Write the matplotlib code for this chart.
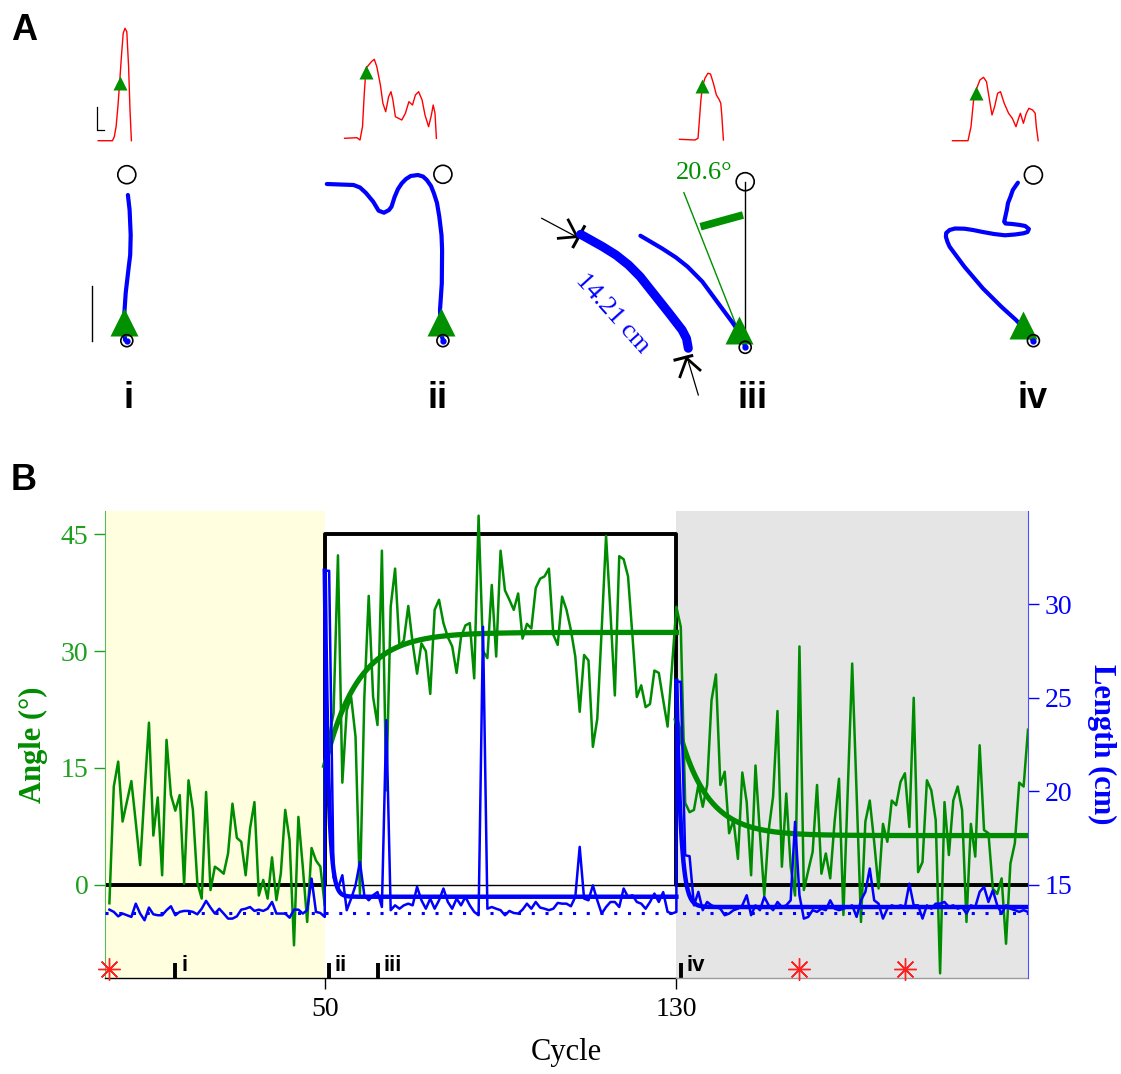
import numpy as np
import matplotlib
matplotlib.use("Agg")
import matplotlib.pyplot as plt
from matplotlib.patches import Circle

plt.rcParams["font.family"] = ["Liberation Serif", "DejaVu Serif"]
SANS = ["Liberation Sans", "DejaVu Sans"]

GREEN = "#008c00"
GREEN_TICK = "#1f9f1f"
BLUE = "#0000ff"
RED = "#ff0000"

# ---------------- panel B data ----------------
# angle (deg) per cycle: baseline 1-50, perturbation 50-130, washout 131-210
base_angle = [-2.4, 12.6, 15.8, 8.1, 10.7, 13.3, 8.0, 2.5, 12.0, 20.8,
              6.3, 11.2, 1.2, 18.6, 11.5, 9.5, 11.5, 0.1, 13.4, 9.6,
              0.3, -1.8, 11.9, -0.7, 2.3, 1.9, 1.4, 4.0, 10.4, 6.0,
              5.5, 1.2, 7.2, 10.6, -1.4, 0.6, -1.8, 3.5, -2.0, 1.4,
              9.6, 5.7, -7.8, 8.7, 2.3, -4.8, 4.7, 3.1, 2.3, -2.7]
pert_angle = [15.8, 19.0, 22.0, 42.3, 13.1, 22.4, 24.1, 19.0, -1.2, 24.0,
              37.1, 24.1, 20.5, 42.9, 12.1, 35.7, 40.6, 30.6, 31.4, 35.8,
              31.0, 27.1, 31.0, 30.0, 24.5, 35.3, 36.6, 33.6, 31.8, 30.6,
              27.2, 31.8, 33.3, 33.6, 26.5, 47.4, 30.0, 29.1, 38.5, 29.3,
              42.9, 37.8, 36.6, 35.3, 37.4, 31.6, 33.5, 32.9, 38.1, 39.3,
              39.6, 40.6, 32.1, 30.8, 37.0, 35.3, 32.7, 29.3, 22.2, 29.5,
              28.8, 17.7, 21.3, 32.7, 44.8, 35.0, 24.3, 42.2, 41.8, 39.6,
              32.0, 24.1, 25.6, 22.8, 23.2, 27.5, 27.2, 23.7, 20.3, 28.0,
              35.7]
wash_angle = [33.1, 10.5, 9.3, 9.6, 12.8, 10.0, 12.8, 23.7, 27.0, 12.8,
              14.5, 6.6, 8.3, 3.3, 14.4, 10.6, 1.2, 15.3, 6.6, -1.4,
              7.0, 11.3, 22.3, 2.3, 11.7, 2.3, -1.4, 30.6, -0.7, 1.8,
              4.2, 12.8, 1.4, 4.0, 0.8, 8.1, 13.6, -3.9, 12.1, 28.4,
              12.0, -4.8, 8.1, 10.8, 5.5, -0.5, 7.8, 5.5, 10.8, 10.2,
              13.2, 14.3, 7.4, 24.0, 1.6, 2.9, 13.4, 12.1, 8.3, -11.4,
              10.6, 3.8, 10.8, 12.6, 9.6, -4.8, 7.8, 3.6, 17.9, 7.0,
              6.6, -0.5, -1.2, 0.8, -7.6, 2.7, 5.3, 13.1, 12.6, 19.9]

# length (cm) per cycle: baseline 1-50, perturbation 50-130, washout 130-210
base_len = [13.66, 13.54, 13.30, 13.45, 13.36, 13.27, 13.98, 13.45, 13.09, 13.77,
            13.41, 13.36, 13.36, 13.63, 13.84, 13.36, 13.54, 13.59, 13.59, 13.54,
            13.41, 13.71, 14.13, 13.77, 13.45, 13.71, 13.45, 13.18, 13.18, 13.30,
            13.66, 13.71, 13.80, 13.59, 13.66, 13.59, 13.71, 14.07, 13.45, 13.45,
            13.45, 13.23, 13.66, 13.66, 13.45, 13.63, 15.32, 13.54, 13.48, 13.27]
pert_len = [31.8, 31.8, 15.4, 14.79, 15.5, 13.63, 14.25, 14.96, 16.21, 14.43,
            14.16, 14.43, 14.6, 13.8, 23.8, 13.63, 13.89, 13.71, 13.89, 13.98,
            13.89, 14.88, 14.16, 13.71, 14.25, 13.71, 14.16, 14.79, 14.07, 13.71,
            14.25, 13.89, 14.34, 13.89, 13.54, 13.36, 28.8, 13.71, 13.8, 13.71,
            13.63, 13.36, 13.59, 13.48, 13.45, 13.66, 13.98, 13.71, 14.07, 13.77,
            13.71, 13.63, 13.71, 14.02, 13.98, 13.98, 13.84, 14.34, 17.02, 14.25,
            14.16, 14.96, 14.16, 13.45, 13.8, 14.07, 14.07, 13.8, 14.79, 14.34,
            14.43, 14.07, 13.98, 13.71, 14.07, 14.52, 14.07, 14.6, 13.54, 13.45,
            13.54]
wash_len = [25.86, 25.86, 16.57, 16.52, 13.89, 14.61, 13.63, 14.07, 13.89, 13.8,
            13.71, 13.36, 13.45, 13.63, 13.71, 13.89, 14.43, 13.36, 13.89, 13.63,
            14.34, 13.89, 13.63, 14.07, 13.8, 13.89, 14.16, 18.36, 14.43, 13.18,
            13.27, 13.63, 13.54, 13.71, 13.63, 14.16, 13.71, 13.63, 13.71, 13.8,
            13.89, 13.27, 14.16, 14.61, 15.86, 14.16, 13.98, 13.18, 13.71, 13.89,
            13.8, 13.89, 13.8, 15.05, 13.89, 13.89, 13.18, 13.89, 13.71, 13.98,
            13.98, 14.07, 13.8, 13.89, 13.71, 13.8, 13.45, 13.89, 13.8, 14.61,
            14.88, 14.07, 14.70, 13.89, 13.45, 13.89, 13.71, 13.63, 13.54, 13.63,
            13.54]

base_x = np.arange(1, 51)
pert_x = np.arange(50, 131)
wash_angle_x = np.arange(131, 211)
wash_len_x = np.arange(130, 211)

# exponential fits: (start value, plateau, time constant in cycles)
angle_fit_pert = (15.3, 32.4, 7.5)
angle_fit_wash = (21.1, 6.3, 6.5)
len_fit_pert = (31.8, 14.35, 0.8)
len_fit_wash = (25.9, 13.8, 1.0)
len_baseline = 13.5

target_x = [0, 50, 50, 130, 130, 210]
target_y = [0, 0, 45, 45, 0, 0]

snapshot_names = ["i", "ii", "iii", "iv"]
snapshot_cycles = [16, 51, 62, 131]
star_cycles = [1, 158, 182]

# ---------------- panel A drawing (pixel coordinates) ----------------
red_i_x = [98.2, 112.5, 114.3, 116.1, 117.9, 119.6, 121.4, 123.2, 125, 126.8, 128.6, 130, 131.4]
red_i_y = [140.7, 140.7, 136.7, 126.7, 106.7, 83.3, 56.7, 33.3, 28.3, 31.7, 66.7, 110, 140.7]
red_ii_x = [344.6, 357, 360, 362.5, 364.3, 366, 371.4, 374.3, 376.8, 380.4, 382.9, 385.7,
            388.6, 391, 392.9, 395.4, 401.8, 405.4, 408.9, 412.5, 415.4, 418.6, 422.1,
            425, 428.6, 431.4, 433.2, 435, 436.4]
red_ii_y = [138.3, 137.7, 140, 126.7, 93.3, 68.3, 61.7, 59.3, 66.7, 85, 103.3, 111.7,
            96.7, 91.7, 100, 116.7, 120, 113.3, 101.7, 105, 95, 91.7, 100,
            115, 126.7, 115, 105, 113.3, 138.3]
red_iii_x = [679.5, 695, 698, 699.4, 700.9, 702.4, 704.9, 707.9, 710.5, 713.4, 716.4,
             719, 720.8, 721.9, 723.4]
red_iii_y = [139.3, 140, 138.3, 120, 100, 86.7, 78.3, 73.3, 74, 83.3, 95,
             99.3, 103.3, 116.7, 140]
red_iv_x = [952.5, 968, 971, 973.6, 976.1, 979.9, 983.5, 986.5, 989.5, 992, 994.6, 997.6,
            1000.5, 1004.2, 1008.6, 1012.3, 1016, 1018.6, 1020.4, 1023.4, 1026.3, 1028.9,
            1032.6, 1035.2, 1036.3, 1038.2]
red_iv_y = [140.7, 140.7, 126.7, 100, 90, 80, 77.3, 81.7, 100, 115, 106.7, 93.3,
            91.7, 103.3, 113.3, 118.3, 126.7, 118.3, 113.3, 123.3, 113.3, 108.3,
            110, 113.3, 126.7, 140.7]

blue_i_x = [127.9, 129.6, 130.7, 130.2, 128.6, 125.7, 123.9, 125]
blue_i_y = [195, 210, 235, 255, 268, 293, 320, 340]
blue_ii_x = [326.8, 353.6, 360, 366, 373.2, 378.6, 384, 389, 391.5, 394.6, 398, 401.8, 406,
             410.7, 417.9, 423, 426.8, 431, 433.9, 437, 439.3, 441.5, 442.1, 441.8, 440, 441, 442.9]
blue_ii_y = [184, 185, 187.5, 193, 201.7, 210.7, 212.7, 210, 206.7, 197, 189, 183.3, 179,
             176, 175, 176.5, 180, 186, 193.3, 203, 216.7, 235, 250, 283.3, 310, 333.3, 340]
blue_iii_thin_x = [640.4, 661.8, 676, 687.6, 702.4, 717.1, 731.9, 741.1, 745.2]
blue_iii_thin_y = [235.7, 248.3, 257.5, 266.7, 281.7, 301.7, 321.7, 335, 346.7]
blue_iii_thick_x = [580.6, 602.7, 616, 628.6, 640, 650.7, 669.2, 682.1, 686.5, 688.3]
blue_iii_thick_y = [234.3, 246.7, 255, 265, 276.5, 290, 313.3, 330, 338.5, 348.3]
blue_iv_x = [1017.9, 1012.8, 1010.5, 1008, 1006.8, 1004.2, 1005.5, 1012.3, 1020, 1025.2, 1028.9,
             1027.5, 1023.4, 1015, 1005, 994, 982.8, 973, 964.4, 955, 949.6, 946.2, 945.9,
             947.5, 949.6, 964.4, 982.8, 1001.3, 1016, 1027.1, 1033.7]
blue_iv_y = [182.7, 190, 196.7, 203, 210, 221.7, 223.5, 224, 225, 226, 229,
             232, 233.3, 234.5, 235.3, 234, 232, 230, 228.7, 228.5, 230, 233, 236.7,
             242, 246.7, 266.7, 288.3, 306.7, 320, 331.7, 341.7]

top_circles = [(126.8, 174.7), (442.9, 174.3), (745.2, 181.7), (1033.4, 175.0)]
base_circles = [(126.8, 340.7), (442.9, 340.7), (745.2, 347.3), (1033.4, 340.7)]
big_triangles = [(123.9, 321.7), (441.0, 321.7), (739.3, 330.0), (1023.4, 325.0)]
small_triangles = [(119.6, 83.3), (366.0, 71.7), (702.4, 86.0), (976.0, 93.3)]
label_pos = [(128, 398), (437, 398), (752, 398), (1033, 398)]

# ---------------- figure ----------------
fig = plt.figure(figsize=(11.21, 10.74), dpi=100)

# panel A on a pixel-space overlay
pa = fig.add_axes([0, 0, 1, 1])
pa.set_xlim(0, 1121)
pa.set_ylim(1074, 0)
pa.axis("off")

for rx, ry in [(red_i_x, red_i_y), (red_ii_x, red_ii_y), (red_iii_x, red_iii_y), (red_iv_x, red_iv_y)]:
    pa.plot(rx, ry, color=RED, lw=1.0, solid_joinstyle="round")
for (tx, ty) in small_triangles:
    pa.plot(tx, ty, marker="^", ms=10, color="#009000", mec="none", zorder=4)

# scale bars
pa.plot([97.1, 97.1, 104.3], [107.3, 130, 130], color="k", lw=0.9)
pa.plot([92.1, 92.1], [286, 340.7], color="k", lw=1.0)

for bx, by in [(blue_i_x, blue_i_y), (blue_ii_x, blue_ii_y), (blue_iii_thin_x, blue_iii_thin_y),
               (blue_iv_x, blue_iv_y)]:
    pa.plot(bx, by, color=BLUE, lw=3.0, solid_capstyle="round", solid_joinstyle="round", zorder=3)
pa.plot(blue_iii_thick_x, blue_iii_thick_y, color=BLUE, lw=6.5, solid_capstyle="round",
        solid_joinstyle="round", zorder=3)

# angle construction in iii
pa.plot([745.2, 745.2], [181.7, 333], color="k", lw=1.0, zorder=2)
pa.plot([683.9, 737.4], [192.7, 328.3], color="#009000", lw=1.0, zorder=2)
pa.plot([700.5, 743], [226.7, 215], color="#009000", lw=5.5, solid_capstyle="butt", zorder=2)
pa.text(704, 173, "20.6°", color="#009000", fontsize=19, ha="center", va="center")
pa.text(612, 314, "14.21 cm", color=BLUE, fontsize=19, ha="center", va="center", rotation=-48)

# dimension markers at the ends of the measured curve
pa.plot([541.7, 574], [218.3, 235.5], color="k", lw=0.9)
pa.plot([558.3, 577, 568.3], [238.3, 236.7, 220], color="k", lw=2.0)
pa.plot([573.3, 584.3], [246.7, 226.7], color="k", lw=2.2)
pa.plot([698.3, 688.5], [395, 362], color="k", lw=0.9)
pa.plot([680, 686.7, 700], [376.7, 358.3, 370], color="k", lw=2.0)
pa.plot([675, 691.7], [360, 355.7], color="k", lw=2.2)

for (cx, cy) in top_circles:
    pa.add_patch(Circle((cx, cy), 9, fill=False, ec="k", lw=1.2, zorder=5))
for (cx, cy) in base_circles:
    pa.add_patch(Circle((cx, cy), 6, fill=False, ec="k", lw=1.2, zorder=5))
    pa.plot(cx, cy, marker="o", ms=3.5, color=BLUE, zorder=6)
for (tx, ty) in big_triangles:
    pa.plot(tx, ty, marker="^", ms=20, color="#009000", mec="none", zorder=4)

for name, (lx, ly) in zip(snapshot_names, label_pos):
    pa.text(lx, ly, name, fontsize=26, fontweight="bold", family=SANS, ha="center", va="center")
pa.text(24, 30, "A", fontsize=26, fontweight="bold", family=SANS, ha="center", va="center")
pa.text(24, 481, "B", fontsize=26, fontweight="bold", family=SANS, ha="center", va="center")

# panel B
ax = fig.add_axes([105 / 1121, 1 - 978 / 1074, 923 / 1121, 467 / 1074])
ax.set_xlim(0, 210)
ax.set_ylim(-12, 48)
ax.axvspan(0, 50, color="#ffffe0", lw=0, zorder=0)
ax.axvspan(130, 210, color="#e5e5e5", lw=0, zorder=0)

ax.plot(target_x, target_y, color="k", lw=2.8, zorder=2)
ax.axhline(0, color="k", lw=1.0, zorder=2)

angle_x = np.concatenate([base_x, pert_x, wash_angle_x])
angle_y = np.concatenate([base_angle, pert_angle, wash_angle])
ax.plot(angle_x, angle_y, color=GREEN, lw=1.8, zorder=3)

for (x0, x1), (start, plateau, tau) in [((50, 130), angle_fit_pert), ((130, 210), angle_fit_wash)]:
    xs = np.linspace(x0, x1, 300)
    ax.plot(xs, plateau + (start - plateau) * np.exp(-(xs - x0) / tau), color=GREEN, lw=3.8, zorder=4)

# snapshot markers and stars along the bottom
for name, cx in zip(snapshot_names, snapshot_cycles):
    ax.plot([cx, cx], [-12, -10.1], color="k", lw=2.8, solid_capstyle="butt", clip_on=False, zorder=5)
    ax.text(cx + 1.3, -11.8, name, fontsize=16, fontweight="bold", family=SANS,
            ha="left", va="bottom", zorder=5)
ax.plot(star_cycles, [-10.9] * len(star_cycles), ls="none", marker=(8, 2, 0), ms=16,
        mew=1.0, color="#ff2020", clip_on=False, zorder=6)

ax.spines["top"].set_visible(False)
ax.spines["right"].set_visible(False)
ax.spines["bottom"].set_visible(False)
ax.spines["left"].set_color("#5cb85c")
ax.plot([0, 130], [-12, -12], color="k", lw=1.0, clip_on=False, zorder=5)
ax.plot([130, 210], [-12, -12], color="#9a9a9a", lw=1.0, clip_on=False, zorder=5)

ax.set_xticks([50, 130])
ax.set_yticks([0, 15, 30, 45])
ax.tick_params(axis="x", direction="out", length=8, width=1, labelsize=20, pad=6)
ax.tick_params(axis="y", direction="out", length=8, width=1, labelsize=20, colors=GREEN_TICK, pad=4)
ax.set_xlabel("Cycle", fontsize=22)
ax.xaxis.set_label_coords(0.5, -0.128)
ax.set_ylabel("Angle (°)", fontsize=22, fontweight="bold", color=GREEN)
ax.yaxis.set_label_coords(-0.062, 0.5)

ax2 = ax.twinx()
ax2.set_ylim(10, 35)
ax2.axhline(len_baseline, color=BLUE, lw=2.2, ls=(0, (1, 3.5)), zorder=2)
len_x = np.concatenate([base_x, pert_x, wash_len_x])
len_y = np.concatenate([base_len, pert_len, wash_len])
ax2.plot(len_x, len_y, color=BLUE, lw=1.8, zorder=3)
for (x0, x1), (start, plateau, tau) in [((50, 130), len_fit_pert), ((130, 210), len_fit_wash)]:
    xs = np.linspace(x0, x1, 400)
    ax2.plot(xs, plateau + (start - plateau) * np.exp(-(xs - x0) / tau), color=BLUE, lw=3.2, zorder=4)

for side in ["top", "left", "bottom"]:
    ax2.spines[side].set_visible(False)
ax2.spines["right"].set_color("#5050ff")
ax2.set_yticks([15, 20, 25, 30])
ax2.tick_params(axis="y", direction="out", length=8, width=1, labelsize=20, colors=BLUE, pad=4)
ax2.set_ylabel("Length (cm)", fontsize=22, fontweight="bold", color=BLUE, rotation=270,
               va="center", ha="center")
ax2.yaxis.set_label_coords(1.08, 0.5)

fig.savefig("out.png", dpi=100)
